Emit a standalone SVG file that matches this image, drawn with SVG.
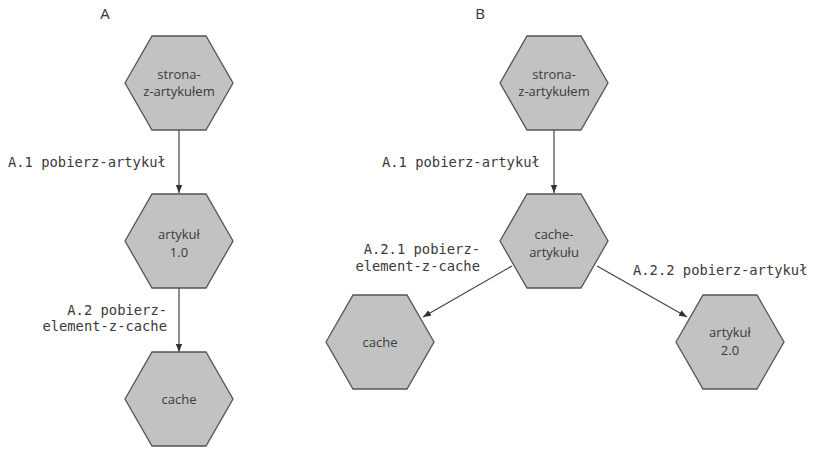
<svg xmlns="http://www.w3.org/2000/svg" width="813" height="449" viewBox="0 0 813 449">
  <style>
    .hex { fill: #c2c2c2; stroke: #555555; stroke-width: 1.3; }
    .lbl { font-family: "Open Sans", "Noto Sans", sans-serif; font-size: 13px; fill: #3a3a3a; text-anchor: middle; }
    .title { font-family: "Open Sans", "Noto Sans", sans-serif; font-size: 15px; fill: #333333; text-anchor: middle; }
    .edge { stroke: #444444; stroke-width: 1.2; fill: none; marker-end: url(#arrow); }
    .elbl { font-family: "DejaVu Sans Mono", "Liberation Mono", monospace; font-size: 13.8px; fill: #3a3a3a; }
  </style>
  <defs>
    <marker id="arrow" viewBox="0 0 10 10" refX="10" refY="5" markerWidth="8" markerHeight="8" markerUnits="userSpaceOnUse" orient="auto">
      <path d="M0,1 L10,5 L0,9 Z" fill="#333333"/>
    </marker>
    <polygon id="hexshape" points="-54,0 -27,-47 27,-47 54,0 27,47 -27,47"/>
  </defs>

  <rect width="813" height="449" fill="#ffffff"/>

  <text class="title" x="105" y="19">A</text>
  <text class="title" x="480" y="19">B</text>

  <!-- connectors -->
  <g id="connectors">
    <line class="edge" x1="179" y1="130" x2="179" y2="193"/>
    <line class="edge" x1="179" y1="288" x2="179" y2="352"/>
    <line class="edge" x1="554" y1="130" x2="554" y2="193"/>
    <line class="edge" x1="512" y1="266" x2="423" y2="317"/>
    <line class="edge" x1="597" y1="266" x2="687" y2="317"/>

    <text class="elbl" x="8" y="167">A.1 pobierz-artykuł</text>
    <text class="elbl" x="167" y="315" text-anchor="end">A.2 pobierz-</text>
    <text class="elbl" x="167" y="331" text-anchor="end">element-z-cache</text>
    <text class="elbl" x="382" y="167">A.1 pobierz-artykuł</text>
    <text class="elbl" x="480" y="254" text-anchor="end">A.2.1 pobierz-</text>
    <text class="elbl" x="480" y="271" text-anchor="end">element-z-cache</text>
    <text class="elbl" x="633" y="275">A.2.2 pobierz-artykuł</text>
  </g>

  <!-- diagram A -->
  <g id="a-strona">
    <use href="#hexshape" class="hex" x="179" y="83"/>
    <text class="lbl" x="179" y="79">strona-</text>
    <text class="lbl" x="179" y="96">z-artykułem</text>
  </g>
  <g id="a-artykul">
    <use href="#hexshape" class="hex" x="179" y="241"/>
    <text class="lbl" x="179" y="239">artykuł</text>
    <text class="lbl" x="179" y="257">1.0</text>
  </g>
  <g id="a-cache">
    <use href="#hexshape" class="hex" x="179" y="399"/>
    <text class="lbl" x="179" y="404">cache</text>
  </g>

  <!-- diagram B -->
  <g id="b-strona">
    <use href="#hexshape" class="hex" x="554" y="83"/>
    <text class="lbl" x="554" y="79">strona-</text>
    <text class="lbl" x="554" y="96">z-artykułem</text>
  </g>
  <g id="b-cache-artykulu">
    <use href="#hexshape" class="hex" x="554" y="241"/>
    <text class="lbl" x="554" y="239">cache-</text>
    <text class="lbl" x="554" y="257">artykułu</text>
  </g>
  <g id="b-cache">
    <use href="#hexshape" class="hex" x="380" y="342"/>
    <text class="lbl" x="380" y="347">cache</text>
  </g>
  <g id="b-artykul">
    <use href="#hexshape" class="hex" x="730" y="342"/>
    <text class="lbl" x="730" y="337">artykuł</text>
    <text class="lbl" x="730" y="355">2.0</text>
  </g>
</svg>
